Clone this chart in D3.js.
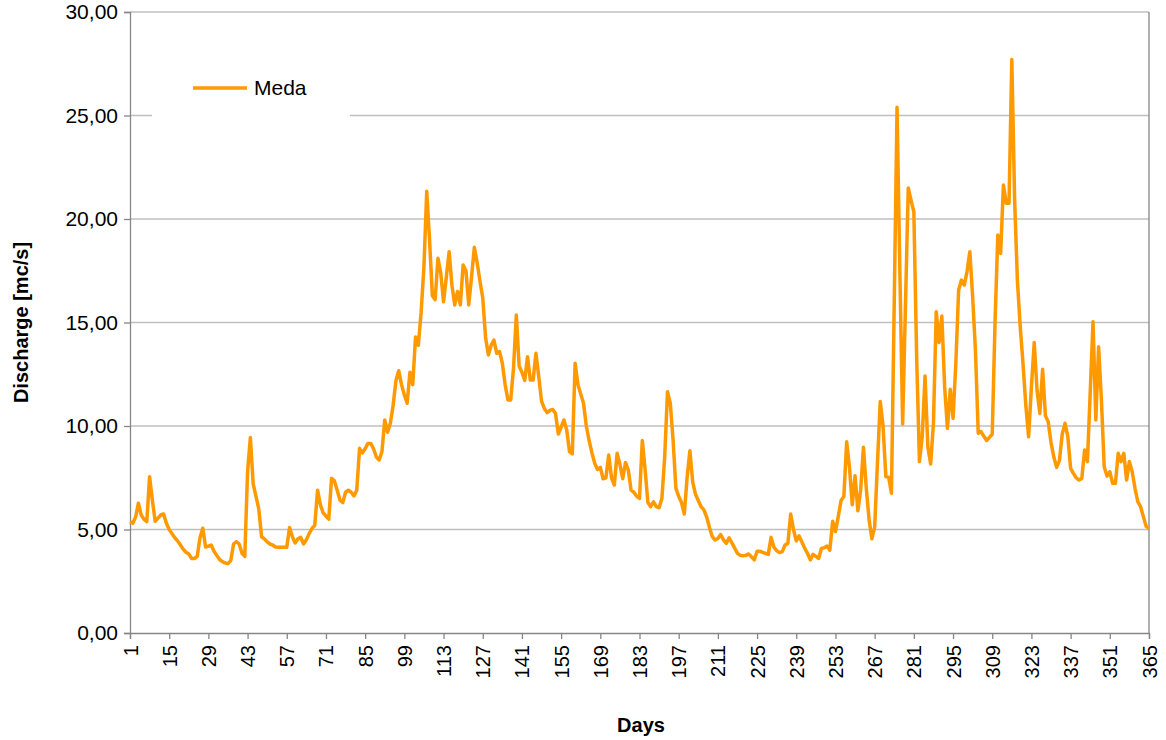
<!DOCTYPE html>
<html>
<head>
<meta charset="utf-8">
<script src="https://cdn.jsdelivr.net/npm/d3@7"></script>
<style>
  body { margin: 0; background: #fff; }
  svg { display: block; font-family: "Liberation Sans", Arial, sans-serif; }
</style>
</head>
<body>
<svg id="chart" width="1166" height="740"></svg>
<script>
// daily discharge of the Meda (day 1 .. 365)
const seriesName = "Meda";
const discharge = [
  5.38, 5.3, 5.6, 6.27, 5.7, 5.5, 5.38, 7.55, 6.4, 5.4,
  5.55, 5.7, 5.75, 5.3, 5.0, 4.8, 4.6, 4.45, 4.25, 4.05,
  3.9, 3.82, 3.6, 3.6, 3.7, 4.6, 5.06, 4.15, 4.2, 4.25,
  3.95, 3.75, 3.55, 3.45, 3.38, 3.35, 3.5, 4.3, 4.41, 4.3,
  3.85, 3.7, 7.79, 9.45, 7.2, 6.6, 6.0, 4.65, 4.55, 4.4,
  4.3, 4.25, 4.15, 4.14, 4.14, 4.14, 4.14, 5.1, 4.65, 4.35,
  4.55, 4.62, 4.3, 4.5, 4.8, 5.05, 5.2, 6.9, 6.2, 5.8,
  5.65, 5.5, 7.47, 7.35, 6.9, 6.43, 6.3, 6.8, 6.9, 6.8,
  6.62, 6.9, 8.92, 8.7, 8.9, 9.16, 9.16, 8.9, 8.5, 8.36,
  8.76, 10.29, 9.7, 10.13, 11.0, 12.2, 12.67, 12.0, 11.5, 11.1,
  12.6, 12.0, 14.3, 13.9, 15.5, 17.7, 21.34, 19.0, 16.3, 16.1,
  18.1, 17.4, 16.0, 17.2, 18.42, 16.8, 15.85, 16.5, 15.85, 17.78,
  17.5, 15.85, 17.2, 18.63, 17.9, 17.0, 16.2, 14.3, 13.43, 13.9,
  14.15, 13.51, 13.6, 13.03, 12.0, 11.26, 11.26, 12.8, 15.36, 12.9,
  12.6, 12.2, 13.35, 12.22, 12.22, 13.51, 12.4, 11.2, 10.85, 10.65,
  10.75, 10.8, 10.6, 9.61, 9.94, 10.29, 9.81, 8.76, 8.65, 13.03,
  12.0, 11.55, 11.1, 10.0, 9.3, 8.7, 8.2, 7.9, 8.0, 7.45,
  7.5, 8.6, 7.5, 7.15, 8.68, 8.15, 7.45, 8.23, 7.87, 6.9,
  6.8, 6.6, 6.5, 9.3, 7.9, 6.3, 6.1, 6.34, 6.1, 6.05,
  6.5, 8.5, 11.66, 11.1, 9.3, 7.0, 6.6, 6.3, 5.75, 7.5,
  8.81, 7.3, 6.7, 6.4, 6.1, 5.95, 5.6, 5.1, 4.65, 4.49,
  4.57, 4.75, 4.5, 4.33, 4.6, 4.35, 4.1, 3.85, 3.75, 3.73,
  3.75, 3.82, 3.68, 3.53, 3.95, 3.95, 3.9, 3.85, 3.8, 4.62,
  4.15, 3.98, 3.88, 3.93, 4.25, 4.33, 5.75, 5.0, 4.45, 4.69,
  4.4, 4.1, 3.85, 3.53, 3.8, 3.7, 3.6, 4.09, 4.12, 4.2,
  4.0, 5.4, 4.9, 5.62, 6.4, 6.59, 9.24, 8.0, 6.2, 7.6,
  5.9, 6.91, 8.97, 7.0, 5.5, 4.55, 5.1, 8.2, 11.18, 10.0,
  7.55, 7.53, 6.75, 16.0, 25.4, 17.5, 10.1, 15.8, 21.5, 20.9,
  20.35, 13.35, 8.28, 9.48, 12.42, 9.0, 8.16, 10.13, 15.52, 14.03,
  15.31, 11.9, 9.89, 11.77, 10.37, 13.03, 16.57, 17.05, 16.81, 17.46,
  18.42, 16.25, 13.67, 9.65, 9.73, 9.5, 9.3, 9.45, 9.6, 15.0,
  19.23, 18.34, 21.64, 20.76, 20.76, 27.71, 20.92, 17.0, 14.8, 13.0,
  11.0, 9.48, 11.9, 14.03, 11.74, 10.61, 12.74, 10.5, 10.2, 9.2,
  8.5, 8.0, 8.33, 9.6, 10.13, 9.5, 7.95, 7.71, 7.5, 7.39,
  7.47, 8.84, 8.28, 11.6, 15.04, 10.29, 13.83, 11.26, 8.03, 7.58,
  7.79, 7.23, 7.23, 8.68, 8.28, 8.68, 7.39, 8.28, 7.79, 6.99,
  6.34, 6.1, 5.62, 5.14, 5.06
];
const days = discharge.map((d, i) => i + 1);
const dayTicks = d3.range(1, 366, 14);          // 1, 15, 29 ... 365
const yTicks = [0, 5, 10, 15, 20, 25, 30];

const svg = d3.select("#chart");
const plotL = 130, plotR = 1149, plotT = 12, plotB = 633;

const x = d3.scaleLinear().domain([1, 365]).range([plotL, plotR]);
const y = d3.scaleLinear().domain([0, 30]).range([plotB, plotT]);

const it = d3.formatLocale({decimal: ",", thousands: ".", grouping: [3], currency: ["", ""]});
const fmt = it.format(".2f");

// horizontal gridlines
svg.append("g")
  .selectAll("line")
  .data(yTicks.slice(1))
  .join("line")
    .attr("x1", plotL).attr("x2", plotR)
    .attr("y1", d => y(d)).attr("y2", d => y(d))
    .attr("stroke", "#bfbfbf").attr("stroke-width", 1.3);

// y axis
const yAxis = svg.append("g")
  .attr("transform", `translate(${plotL},0)`)
  .call(d3.axisLeft(y).tickValues(yTicks).tickFormat(fmt).tickSize(6).tickPadding(6));
yAxis.select(".domain").attr("stroke", "#868686").attr("stroke-width", 1.3);
yAxis.selectAll(".tick line").attr("stroke", "#868686").attr("stroke-width", 1.3);
yAxis.selectAll("text").attr("font-size", 21).attr("fill", "#000")
  .attr("font-family", "Liberation Sans, Arial, sans-serif");

// x axis
const xAxis = svg.append("g")
  .attr("transform", `translate(0,${plotB})`)
  .call(d3.axisBottom(x).tickValues(dayTicks).tickFormat(d => d).tickSize(6));
xAxis.select(".domain").attr("stroke", "#868686").attr("stroke-width", 1.3);
xAxis.selectAll(".tick line").attr("stroke", "#868686").attr("stroke-width", 1.3);
xAxis.selectAll("text")
  .attr("font-size", 20).attr("fill", "#000")
  .attr("font-family", "Liberation Sans, Arial, sans-serif")
  .attr("text-anchor", "end")
  .attr("transform", "translate(0,12) rotate(-90)")
  .attr("x", 0).attr("y", 0).attr("dy", "0.35em");

// right border of the plot
svg.append("line")
  .attr("x1", plotR).attr("x2", plotR).attr("y1", plotT).attr("y2", plotB)
  .attr("stroke", "#868686").attr("stroke-width", 1.3);

// the series
const line = d3.line()
  .x((d, i) => x(days[i]))
  .y(d => y(d));

svg.append("path")
  .datum(discharge)
  .attr("fill", "none")
  .attr("stroke", "#ff9900")
  .attr("stroke-width", 3.5)
  .attr("stroke-linejoin", "round")
  .attr("d", line);

// legend (white box over the gridline)
const legend = svg.append("g");
legend.append("rect")
  .attr("x", 152).attr("y", 62).attr("width", 198).attr("height", 58)
  .attr("fill", "#fff");
legend.append("line")
  .attr("x1", 193).attr("x2", 247).attr("y1", 88).attr("y2", 88)
  .attr("stroke", "#ff9900").attr("stroke-width", 3.5);
legend.append("text")
  .attr("x", 254).attr("y", 95)
  .attr("font-size", 21)
  .text(seriesName);

// axis titles
svg.append("text")
  .attr("transform", `translate(28,${(plotT + plotB) / 2}) rotate(-90)`)
  .attr("text-anchor", "middle")
  .attr("font-size", 20).attr("font-weight", "bold")
  .text("Discharge [mc/s]");

svg.append("text")
  .attr("x", 641).attr("y", 732)
  .attr("text-anchor", "middle")
  .attr("font-size", 20).attr("font-weight", "bold")
  .text("Days");
</script>
</body>
</html>
